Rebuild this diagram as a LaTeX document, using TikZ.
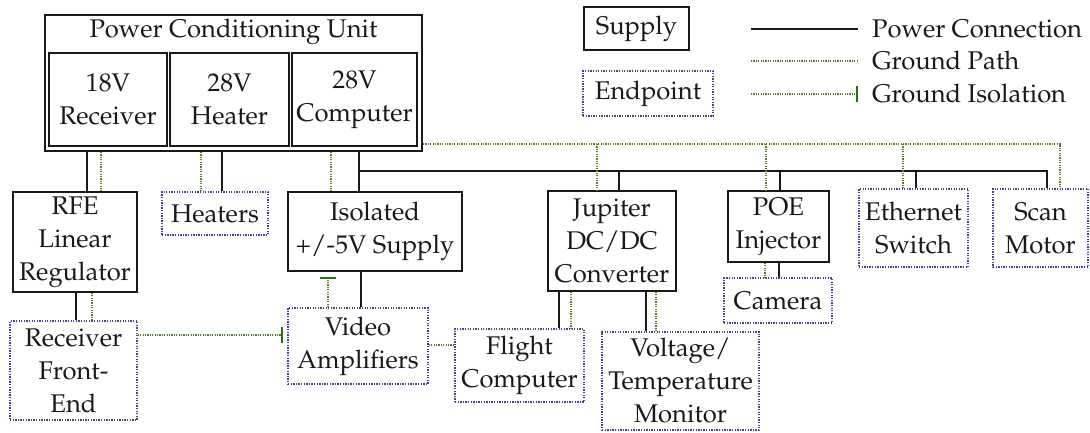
\documentclass[tikz,border=0pt]{standalone}
\usepackage[T1]{fontenc}
\usepackage{mathpazo}
\usetikzlibrary{arrows.meta}
\definecolor{gnd}{RGB}{85,125,35}
\definecolor{isoc}{RGB}{40,110,30}
\definecolor{ept}{RGB}{65,65,150}
\definecolor{ink}{RGB}{25,25,25}
\tikzset{
  supply/.style={draw=ink, line width=1.6pt, inner sep=0pt, align=center},
  endpt/.style={draw=ept, line width=1.5pt, dash pattern=on 1.3pt off 1.3pt, inner sep=0pt, align=center},
  power/.style={draw=ink, line width=1.6pt},
  ground/.style={draw=gnd, line width=1.4pt, dash pattern=on 1.2pt off 1.2pt},
  isol/.style={ground, -{Bar[width=16pt, line width=2pt, color=isoc]}},
  lbl/.style={inner sep=0pt, anchor=west}
}
\begin{document}
\begin{tikzpicture}[x=1pt, y=-1pt, font=\fontsize{25.6}{33}\selectfont, text=ink]
\useasboundingbox (0,0) rectangle (1090,432);
% Power conditioning unit
\node[supply, line width=1.9pt, minimum width=377pt, minimum height=136pt] (pcu) at (233.5,83) {};
\node[inner sep=0pt] (pcut) at (233.5,32) {Power Conditioning Unit};
\node[supply, minimum width=118pt, minimum height=93pt] (rcv) at (108,99.5) {18V\\Receiver};
\node[supply, minimum width=119pt, minimum height=93pt] (htr) at (229.5,99.5) {28V\\Heater};
\node[supply, minimum width=125pt, minimum height=93pt] (cmp) at (354.5,99.5) {28V\\Computer};
% Supplies
\node[supply, minimum width=124pt, minimum height=100pt] (rfe) at (75,242) {RFE\\Linear\\Regulator};
\node[supply, minimum width=174pt, minimum height=79pt] (iso) at (375,231.5) {Isolated\\+/-5V Supply};
\node[supply, minimum width=128pt, minimum height=100pt] (jup) at (612,241) {Jupiter\\DC/DC\\Converter};
\node[supply, minimum width=101pt, minimum height=71pt] (poe) at (778.5,226.5) {POE\\Injector};
% Endpoints
\node[endpt, minimum width=106pt, minimum height=43pt] (heaters) at (215,213.5) {Heaters};
\node[endpt, minimum width=127pt, minimum height=99pt] (rfe2) at (73.5,370.5) {Receiver\\Front-\\End};
\node[endpt, minimum width=140pt, minimum height=76pt] (video) at (358,346) {Video\\Amplifiers};
\node[endpt, minimum width=129pt, minimum height=73pt] (flight) at (519.5,365.5) {Flight\\Computer};
\node[endpt, minimum width=157pt, minimum height=98pt] (volt) at (680.5,381) {Voltage/\\Temperature\\Monitor};
\node[endpt, minimum width=108pt, minimum height=45pt] (cam) at (778,300.5) {Camera};
\node[endpt, minimum width=109pt, minimum height=78pt] (eth) at (913.5,228) {Ethernet\\Switch};
\node[endpt, minimum width=95pt, minimum height=78pt] (scan) at (1040.5,228) {Scan\\Motor};
% Legend
\node[supply, minimum width=105pt, minimum height=43pt] (lsup) at (636.5,28.5) {Supply};
\node[endpt, minimum width=130pt, minimum height=45pt] (lend) at (648,93.5) {Endpoint};
\coordinate (l1a) at (751,29); \coordinate (l1b) at (858,29);
\coordinate (l2a) at (751,61); \coordinate (l2b) at (858,61);
\coordinate (l3a) at (751,94); \coordinate (l3b) at (858,94);
\draw[power] (l1a) -- (l1b);
\draw[ground] (l2a) -- (l2b);
\draw[isol] (l3a) -- (l3b);
\node[lbl] (t1) at (872,29) {Power Connection};
\node[lbl] (t2) at (872,61) {Ground Path};
\node[lbl] (t3) at (872,94) {Ground Isolation};
% Power connections
\draw[power] (pcu.south -| 87,0) -- (rfe.north -| 87,0);
\draw[power] (pcu.south -| 222,0) -- (heaters.north -| 222,0);
\draw[power] (pcu.south -| 359,0) -- (iso.north -| 359,0);
\coordinate (busL) at (359,171);
\coordinate (busR) at (1047,171);
\draw[power] (busL) -- (busR) -- (scan.north -| busR);
\draw[power] (busL -| 619,0) -- (jup.north -| 619,0);
\draw[power] (busL -| 780,0) -- (poe.north -| 780,0);
\draw[power] (busL -| 916,0) -- (eth.north -| 916,0);
\draw[power] (rfe.south -| 76,0) -- (rfe2.north -| 76,0);
\draw[power] (iso.south -| 361,0) -- (video.north -| 361,0);
\draw[power] (jup.south -| 559,0) -- (flight.north -| 559,0);
\draw[power] (jup.south -| 646,0) -- (volt.north -| 646,0);
\draw[power] (poe.south -| 779,0) -- (cam.north -| 779,0);
% Ground paths
\draw[ground] (pcu.south -| 101,0) -- (rfe.north -| 101,0);
\draw[ground] (pcu.south -| 201,0) -- (heaters.north -| 201,0);
\draw[ground] (pcu.south -| 331,0) -- (iso.north -| 331,0);
\coordinate (gR) at (1060,144);
\draw[ground] (pcu.east |- gR) -- (gR) -- (scan.north -| gR);
\draw[ground] (gR -| 597,0) -- (jup.north -| 597,0);
\draw[ground] (gR -| 766,0) -- (poe.north -| 766,0);
\draw[ground] (gR -| 903,0) -- (eth.north -| 903,0);
\draw[ground] (rfe.south -| 92,0) -- (rfe2.north -| 92,0);
\draw[ground] (jup.south -| 571,0) -- (flight.north -| 571,0);
\draw[ground] (jup.south -| 656,0) -- (volt.north -| 656,0);
\draw[ground] (poe.south -| 765,0) -- (cam.north -| 765,0);
\draw[ground] (video.east |- 0,345) -- (flight.west |- 0,345);
% Ground isolation
\draw[isol, shorten >=4pt] (rfe2.east |- 0,335) -- (video.west |- 0,335);
\draw[isol, shorten >=5pt] (video.north -| 328,0) -- (iso.south -| 328,0);
\end{tikzpicture}
\end{document}
